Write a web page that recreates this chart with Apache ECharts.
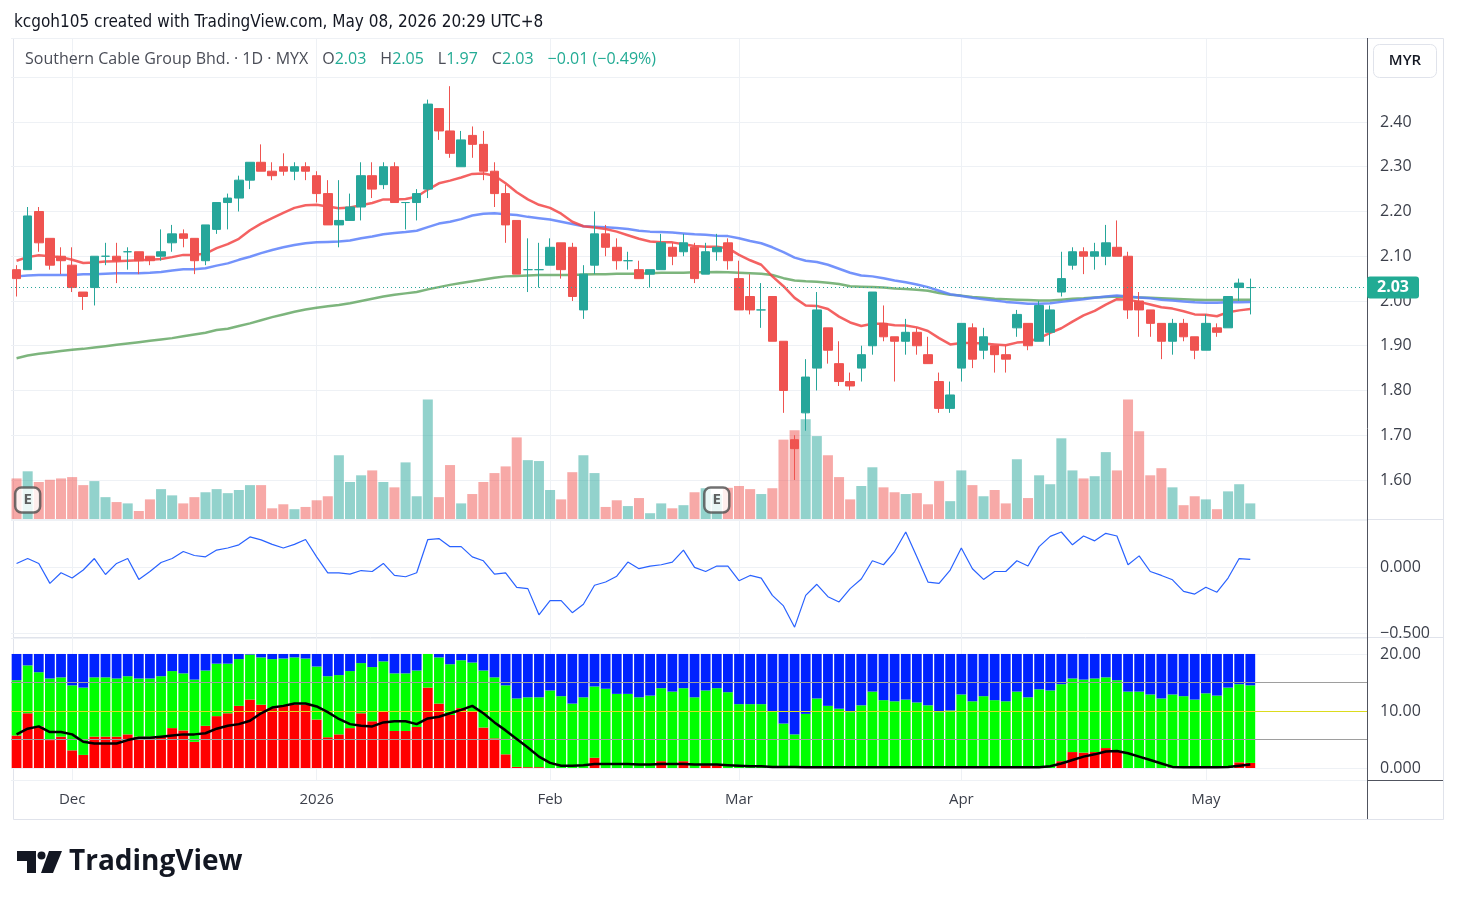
<!DOCTYPE html>
<html>
<head>
<meta charset="utf-8">
<title>Southern Cable Group Bhd. 1D</title>
<script src="https://cdn.jsdelivr.net/npm/echarts@6/dist/echarts.min.js"></script>
<style>
  html, body { margin: 0; padding: 0; background: #fff; }
  #chart { width: 1457px; height: 905px; }
</style>
</head>
<body>
<div id="chart"></div>
<script>
// trading days shown on the chart
const dates = [
  '2025-11-24','2025-11-25','2025-11-26','2025-11-27','2025-11-28',
  '2025-12-01','2025-12-02','2025-12-03','2025-12-04','2025-12-05',
  '2025-12-08','2025-12-09','2025-12-10','2025-12-11','2025-12-12',
  '2025-12-15','2025-12-16','2025-12-17','2025-12-18','2025-12-19',
  '2025-12-22','2025-12-23','2025-12-24','2025-12-26','2025-12-29','2025-12-30','2025-12-31',
  '2026-01-02','2026-01-05','2026-01-06','2026-01-07','2026-01-08','2026-01-09',
  '2026-01-12','2026-01-13','2026-01-14','2026-01-15','2026-01-16',
  '2026-01-19','2026-01-20','2026-01-21','2026-01-22','2026-01-23',
  '2026-01-26','2026-01-27','2026-01-28','2026-01-29','2026-01-30',
  '2026-02-03','2026-02-04','2026-02-05','2026-02-06',
  '2026-02-09','2026-02-10','2026-02-11','2026-02-12','2026-02-13',
  '2026-02-16','2026-02-19','2026-02-20',
  '2026-02-23','2026-02-24','2026-02-25','2026-02-26','2026-02-27',
  '2026-03-02','2026-03-03','2026-03-04','2026-03-05','2026-03-06',
  '2026-03-09','2026-03-10','2026-03-11','2026-03-12','2026-03-13',
  '2026-03-16','2026-03-17','2026-03-18','2026-03-19',
  '2026-03-24','2026-03-25','2026-03-26','2026-03-27','2026-03-30','2026-03-31',
  '2026-04-01','2026-04-02','2026-04-03',
  '2026-04-06','2026-04-07','2026-04-08','2026-04-09','2026-04-10',
  '2026-04-13','2026-04-14','2026-04-15','2026-04-16','2026-04-17',
  '2026-04-20','2026-04-21','2026-04-22','2026-04-23','2026-04-24',
  '2026-04-27','2026-04-28','2026-04-29','2026-04-30',
  '2026-05-04','2026-05-05','2026-05-06','2026-05-07','2026-05-08'
]

// open, high, low, close
const ohlc = [
  [2.07,2.08,2.01,2.05],[2.07,2.21,2.07,2.19],[2.20,2.21,2.11,2.13],[2.14,2.14,2.07,2.08],[2.10,2.12,2.06,2.09],
  [2.08,2.12,2.02,2.03],[2.02,2.02,1.98,2.01],[2.03,2.10,1.99,2.10],[2.10,2.13,2.08,2.10],[2.10,2.13,2.04,2.09],
  [2.11,2.12,2.07,2.11],[2.11,2.11,2.06,2.09],[2.10,2.10,2.08,2.09],[2.10,2.16,2.09,2.11],[2.13,2.17,2.11,2.15],
  [2.15,2.16,2.12,2.14],[2.14,2.14,2.06,2.09],[2.09,2.17,2.08,2.17],[2.16,2.22,2.15,2.22],[2.22,2.24,2.16,2.23],
  [2.23,2.28,2.20,2.27],[2.27,2.31,2.25,2.31],[2.31,2.35,2.29,2.29],[2.29,2.31,2.27,2.28],[2.30,2.33,2.28,2.29],
  [2.29,2.31,2.27,2.30],[2.30,2.31,2.27,2.29],[2.28,2.29,2.22,2.24],[2.24,2.27,2.17,2.17],[2.17,2.27,2.12,2.18],
  [2.18,2.24,2.18,2.21],[2.21,2.31,2.18,2.28],[2.28,2.31,2.23,2.25],[2.26,2.31,2.25,2.30],[2.30,2.31,2.22,2.22],
  [2.22,2.22,2.16,2.22],[2.22,2.25,2.18,2.24],[2.25,2.45,2.23,2.44],[2.43,2.43,2.36,2.38],[2.38,2.48,2.32,2.33],
  [2.30,2.38,2.30,2.36],[2.37,2.39,2.32,2.35],[2.35,2.38,2.27,2.29],[2.29,2.31,2.21,2.24],[2.24,2.26,2.13,2.17],
  [2.18,2.18,2.06,2.06],[2.07,2.14,2.02,2.07],[2.07,2.13,2.03,2.07],[2.08,2.14,2.08,2.12],[2.13,2.13,2.05,2.07],
  [2.12,2.13,2.00,2.01],[1.98,2.08,1.96,2.06],[2.08,2.20,2.06,2.15],[2.15,2.17,2.10,2.12],[2.12,2.14,2.07,2.09],
  [2.09,2.11,2.07,2.09],[2.07,2.09,2.05,2.05],[2.06,2.07,2.03,2.07],[2.07,2.15,2.07,2.13],[2.12,2.13,2.08,2.10],
  [2.11,2.15,2.10,2.13],[2.12,2.13,2.04,2.05],[2.06,2.13,2.06,2.11],[2.11,2.15,2.09,2.12],[2.13,2.14,2.07,2.09],
  [2.05,2.09,1.98,1.98],[2.01,2.06,1.97,1.98],[1.98,2.04,1.94,1.98],[2.01,2.01,1.91,1.91],[1.91,1.91,1.75,1.80],
  [1.69,1.70,1.60,1.67],[1.75,1.87,1.71,1.83],[1.85,2.02,1.80,1.98],[1.94,1.94,1.86,1.89],[1.86,1.91,1.81,1.82],
  [1.82,1.84,1.80,1.81],[1.85,1.90,1.82,1.88],[1.90,2.02,1.88,2.02],[1.95,1.99,1.91,1.92],[1.92,1.92,1.82,1.91],
  [1.91,1.96,1.88,1.93],[1.93,1.94,1.88,1.90],[1.88,1.92,1.86,1.86],[1.82,1.84,1.75,1.76],[1.76,1.82,1.75,1.79],
  [1.85,1.95,1.82,1.95],[1.94,1.95,1.85,1.87],[1.89,1.94,1.87,1.92],[1.90,1.90,1.84,1.88],[1.88,1.90,1.84,1.87],
  [1.94,1.98,1.92,1.97],[1.95,1.95,1.89,1.90],[1.91,2.00,1.91,1.99],[1.93,1.99,1.90,1.98],[2.02,2.11,2.01,2.05],
  [2.08,2.12,2.07,2.11],[2.11,2.12,2.06,2.10],[2.10,2.13,2.07,2.11],[2.10,2.17,2.08,2.13],[2.12,2.18,2.10,2.10],
  [2.10,2.11,1.96,1.98],[2.00,2.02,1.92,1.98],[1.98,1.98,1.92,1.95],[1.95,1.95,1.87,1.91],[1.91,1.96,1.88,1.95],
  [1.95,1.96,1.91,1.92],[1.92,1.92,1.87,1.89],[1.89,1.97,1.89,1.95],[1.94,1.95,1.92,1.93],[1.94,2.01,1.94,2.01],
  [2.03,2.05,2.00,2.04],[2.03,2.05,1.97,2.03]
]

const volume = [
  91,107,83,88,91,94,76,85,49,38, 35,18,44,67,53,35,49,60,67,58,
  65,76,76,24,33,22,27,42,51,143, 83,98,109,83,71,127,51,268,49,121,
  35,56,83,103,118,183,132,130,65,44, 105,143,103,27,42,29,47,13,35,24,
  31,60,69,55,70,74,67,56,69,178, 199,224,186,143,94,44,74,116,71,60,
  56,58,33,85,40,109,76,51,65,35, 134,47,98,78,181,109,91,96,150,109,
  268,197,98,114,71,31,51,44,22,62, 78,35
]

const maFast = [
  2.090,2.098,2.102,2.100,2.098,2.092,2.085,2.086,2.088,2.089,2.090,2.091,2.092,2.094,2.098,2.103,2.103,2.106,2.118,2.127,
  2.139,2.158,2.173,2.185,2.197,2.208,2.214,2.215,2.211,2.207,2.209,2.214,2.219,2.227,2.227,2.228,2.233,2.249,
  2.263,2.269,2.276,2.284,2.285,2.280,2.263,2.243,2.227,2.215,2.208,2.195,2.177,2.167,2.164,2.161,2.155,2.147,
  2.139,2.133,2.131,2.131,2.127,2.123,2.121,2.121,2.118,2.103,2.091,2.081,2.055,2.033,2.007,1.990,1.989,1.982,1.965,
  1.952,1.944,1.949,1.949,1.946,1.945,1.941,1.933,1.917,1.903,1.906,1.906,1.905,1.903,1.901,1.907,1.909,1.917,
  1.929,1.939,1.954,1.968,1.978,1.992,2.004,2.003,1.998,1.992,1.986,1.983,1.977,1.970,1.969,1.966,1.975,1.979,1.982
]

const maMid = [
  2.055,2.057,2.058,2.058,2.058,2.058,2.060,2.060,2.061,2.062,2.062,2.062,2.063,2.065,2.068,2.071,2.071,2.073,2.079,2.084,
  2.092,2.099,2.107,2.114,2.120,2.125,2.129,2.131,2.132,2.133,2.135,2.140,2.144,2.149,2.152,2.154,2.157,2.165,
  2.173,2.177,2.183,2.191,2.195,2.196,2.194,2.192,2.188,2.185,2.182,2.177,2.172,2.167,2.166,2.165,2.163,2.161,
  2.157,2.155,2.154,2.153,2.151,2.149,2.148,2.146,2.145,2.140,2.134,2.129,2.120,2.109,2.097,2.090,2.087,2.081,2.072,
  2.063,2.057,2.055,2.051,2.046,2.042,2.037,2.031,2.023,2.015,2.011,2.007,2.004,2.001,1.998,1.996,1.994,1.994,
  1.995,1.998,2.001,2.004,2.007,2.010,2.012,2.010,2.008,2.006,2.003,2.001,1.999,1.997,1.996,1.996,1.997,1.997,1.998
]

const maSlow = [
  1.872,1.878,1.882,1.885,1.888,1.891,1.893,1.896,1.899,1.902,1.905,1.908,1.911,1.914,1.917,1.921,1.925,1.929,1.935,1.938,
  1.944,1.950,1.957,1.964,1.970,1.976,1.981,1.985,1.988,1.991,1.995,2.000,2.005,2.010,2.014,2.017,2.020,2.026,
  2.031,2.036,2.040,2.044,2.048,2.052,2.055,2.056,2.057,2.058,2.058,2.058,2.058,2.059,2.060,2.060,2.061,2.061,
  2.061,2.062,2.063,2.063,2.063,2.064,2.064,2.065,2.064,2.063,2.062,2.061,2.058,2.051,2.046,2.044,2.043,2.041,2.038,
  2.033,2.032,2.031,2.030,2.028,2.027,2.025,2.023,2.018,2.014,2.012,2.009,2.007,2.005,2.004,2.003,2.002,2.001,
  2.001,2.003,2.005,2.006,2.008,2.009,2.010,2.009,2.008,2.007,2.006,2.005,2.004,2.003,2.002,2.002,2.002,2.003,2.003
]

const oscillator = [
  0.027,0.064,0.027,-0.124,-0.044,-0.084,-0.023,0.064,-0.057,0.027,
  0.064,-0.094,-0.034,0.034,0.064,0.117,0.087,0.077,0.128,0.144,
  0.168,0.228,0.205,0.171,0.144,0.171,0.208,0.077,-0.044,-0.044,
  -0.054,-0.027,-0.034,0.027,-0.064,-0.074,-0.044,0.208,0.215,0.154,
  0.154,0.077,0.047,-0.054,-0.044,-0.154,-0.164,-0.362,-0.255,-0.255,
  -0.346,-0.282,-0.138,-0.114,-0.070,0.037,-0.013,0.007,0.017,0.037,
  0.128,-0.003,-0.034,0.007,0.007,-0.104,-0.064,-0.084,-0.215,-0.295,
  -0.456,-0.215,-0.131,-0.225,-0.265,-0.164,-0.091,0.047,0.017,0.117,
  0.265,0.077,-0.114,-0.124,-0.023,0.144,-0.013,-0.094,-0.034,-0.034,
  0.047,0.007,0.154,0.232,0.265,0.168,0.235,0.198,0.255,0.235,
  0.017,0.084,-0.034,-0.064,-0.097,-0.185,-0.205,-0.154,-0.191,-0.084,
  0.064,0.057
]

// bottom pane: stacked red / green / blue columns and the black line
const paneRed = [
  5.7,9.6,7.3,4.9,5.5,3.1,2.3,5.5,5.5,5.5, 5.9,5.5,5.5,5.5,7.0,6.6,4.6,7.4,9.1,9.6,
  10.9,12.0,11.1,10.5,10.9,11.1,11.1,8.5,5.4,5.9, 7.0,9.6,8.2,9.9,6.5,6.5,7.2,14.1,11.3,9.3,
  10.5,9.9,7.1,5.2,2.4,0.2,0.15,0.15,0,0, 0,0,1.8,0,0,0,0,0,1.2,0,
  1.2,0,0.5,0.5,0,0,0,0,0,0, 0,0,0,0,0,0,0,0,0,0,
  0,0,0,0,0,0,0,0,0,0, 0,0,0,0,1.2,2.8,2.7,2.8,3.5,3.0,
  0,0,0,0,0,0,0,0,0,0, 1.0,0.9
]
const paneGreen = [
  9.7,8.4,9.5,10.8,10.4,11.4,11.8,10.4,10.4,10.2, 10.2,10.2,10.2,10.6,10.0,10.0,10.9,9.7,9.2,8.7,
  8.2,7.9,8.3,8.6,8.3,8.3,8.1,9.3,10.7,10.4, 10.0,8.8,9.5,8.8,10.1,10.1,9.9,5.9,8.1,8.9,
  8.4,8.6,10.0,10.7,12.1,12.0,12.25,12.25,13.6,12.6, 11.3,12.4,12.5,13.9,13.0,13.0,12.4,12.7,12.8,13.4,
  12.8,12.4,13.1,13.5,13.3,11.2,11.2,11.2,9.9,7.8, 5.9,9.5,12.2,10.9,10.4,9.8,11.0,13.4,11.9,11.7,
  12.0,11.5,11.0,9.8,10.1,12.9,11.7,12.6,11.9,11.7, 13.4,12.4,13.8,13.6,13.5,12.9,12.8,12.9,12.4,12.4,
  13.4,13.4,12.9,12.2,12.9,12.6,12.0,13.1,12.7,14.1, 13.7,13.6
]
const paneBlue = [
  4.6,2.0,3.2,4.3,4.1,5.5,5.9,4.1,4.1,4.3, 3.9,4.3,4.3,3.9,3.0,3.4,4.5,2.9,1.7,1.7,
  0.9,0.1,0.6,0.9,0.8,0.6,0.8,2.2,3.9,3.7, 3.0,1.6,2.3,1.3,3.4,3.4,2.9,0,0.6,1.8,
  1.1,1.5,2.9,4.1,5.5,7.8,7.6,7.6,6.4,7.4, 8.7,7.6,5.7,6.1,7.0,7.0,7.6,7.3,6.0,6.6,
  6.0,7.6,6.4,6.0,6.7,8.8,8.8,8.8,10.1,12.2, 14.1,10.5,7.8,9.1,9.6,10.2,9.0,6.6,8.1,8.3,
  8.0,8.5,9.0,10.2,9.9,7.1,8.3,7.4,8.1,8.3, 6.6,7.6,6.2,6.4,5.3,4.3,4.5,4.3,4.1,4.6,
  6.6,6.6,7.1,7.8,7.1,7.4,8.0,6.9,7.3,5.9, 5.3,5.5
]
const paneLine = [
  5.9,6.9,7.3,6.3,6.3,5.9,4.6,4.3,4.3,4.3, 4.9,5.3,5.3,5.5,5.7,5.9,5.9,6.1,6.9,7.4,
  7.7,8.3,9.6,10.6,10.9,11.3,11.3,10.8,9.8,8.6, 7.7,7.4,7.3,8.0,8.2,8.2,7.7,8.7,9.0,9.6,
  10.2,10.9,9.6,8.0,6.6,5.1,3.6,2.0,0.9,0.4, 0.4,0.5,0.7,0.7,0.7,0.7,0.6,0.6,0.7,0.7,
  0.7,0.6,0.6,0.6,0.5,0.4,0.3,0.3,0.2,0.2, 0.2,0.15,0.15,0.15,0.15,0.15,0.15,0.15,0.15,0.15,
  0.15,0.15,0.15,0.15,0.15,0.15,0.15,0.15,0.15,0.15, 0.15,0.15,0.15,0.3,0.8,1.4,2.0,2.4,2.9,3.0,
  2.6,2.0,1.4,0.8,0.2,0.15,0.15,0.15,0.15,0.2, 0.4,0.6
]

const earningsDates = ['2025-11-25', '2026-02-26']
const monthNames = ['2026', 'Feb', 'Mar', 'Apr', 'May', 'Jun', 'Jul', 'Aug', 'Sep', 'Oct', 'Nov', 'Dec']

const UP = '#26a69a'
const DOWN = '#ef5350'
const GRID_LINE = '#eef1f5'
const AXIS_TEXT = '#3b3f4a'
const FONT = '"Open Sans", Roboto, sans-serif'
const NARROW = '"Liberation Sans Narrow", "DejaVu Sans Condensed", Roboto, sans-serif'

// empty slots to the right of the last bar, like the chart's right margin
const categories = dates.concat(Array.from({ length: 10 }, (_, i) => 'pad' + i))

function isMonthStart(i) {
  return i > 0 && i < dates.length && dates[i].slice(0, 7) !== dates[i - 1].slice(0, 7)
}

function monthLabel(i) {
  const m = parseInt(dates[i].slice(5, 7), 10)
  return monthNames[m - 1]
}

const isUp = (row) => row[3] >= row[0]

const candleData = ohlc.map(row => {
  const item = { value: [row[0], row[3], row[2], row[1]] }
  if (row[3] === row[0]) {
    item.itemStyle = { color: UP, color0: UP, borderColor: UP, borderColor0: UP }
  }
  return item
})

const volumeData = volume.map((v, i) => ({
  value: v,
  itemStyle: { color: isUp(ohlc[i]) ? 'rgba(38,166,154,0.5)' : 'rgba(239,83,80,0.5)' }
}))

const last = ohlc[ohlc.length - 1]
const prevClose = ohlc[ohlc.length - 2][3]
const change = last[3] - prevClose
const changePct = change / prevClose * 100
const minus = (v, d) => (v < 0 ? '\u2212' : '') + Math.abs(v).toFixed(d)

const chart = echarts.init(document.getElementById('chart'))

function xAxisFor(gridIndex, showLabels) {
  return {
    type: 'category',
    gridIndex: gridIndex,
    data: categories,
    boundaryGap: true,
    axisLine: { show: false },
    axisTick: { show: false },
    axisLabel: {
      show: showLabels,
      interval: (i) => isMonthStart(i),
      formatter: (v, i) => monthLabel(i),
      color: AXIS_TEXT,
      fontSize: 15,
      fontFamily: FONT,
      margin: 12
    },
    splitLine: {
      show: true,
      interval: (i) => isMonthStart(i),
      alignWithLabel: true,
      lineStyle: { color: GRID_LINE, width: 1 }
    }
  }
}

const yAxisCommon = {
  position: 'right',
  axisLine: { show: false },
  axisTick: { show: false },
  splitLine: { show: true, lineStyle: { color: GRID_LINE, width: 1 } },
  axisLabel: { color: AXIS_TEXT, fontSize: 16, fontFamily: FONT, margin: 13 }
}

const legendText = '{n|Southern Cable Group Bhd. \u00b7 1D \u00b7 MYX}   {k|O}{v|' + last[0].toFixed(2) +
  '}   {k|H}{v|' + last[1].toFixed(2) + '}   {k|L}{v|' + last[2].toFixed(2) +
  '}   {k|C}{v|' + last[3].toFixed(2) + '}   {v|' + minus(change, 2) + ' (' + minus(changePct, 2) + '%)}'

const option = {
  animation: false,
  backgroundColor: '#ffffff',
  textStyle: { fontFamily: FONT },
  title: {
    left: 25,
    top: 50,
    padding: 0,
    text: legendText,
    textStyle: {
      fontWeight: 'normal',
      rich: {
        n: { color: '#4a4d57', fontSize: 16, fontFamily: FONT, fontWeight: 'normal' },
        k: { color: '#4a4d57', fontSize: 16, fontFamily: FONT, fontWeight: 'normal' },
        v: { color: '#22ab94', fontSize: 16, fontFamily: FONT, fontWeight: 'normal' }
      }
    }
  },
  grid: [
    { left: 11, right: 90, top: 38, height: 481 },
    { left: 11, right: 90, top: 520, height: 118 },
    { left: 11, right: 90, top: 638, height: 142 }
  ],
  xAxis: [xAxisFor(0, false), xAxisFor(1, false), xAxisFor(2, true)],
  yAxis: [
    Object.assign({}, yAxisCommon, {
      gridIndex: 0,
      min: 1.5128,
      max: 2.5877,
      splitNumber: 10,
      axisLabel: Object.assign({}, yAxisCommon.axisLabel, {
        formatter: (v) => (v > 2.45 || v < 1.55) ? '' : v.toFixed(2)
      })
    }),
    { gridIndex: 0, show: false, min: 0, max: 1079, splitLine: { show: false } },
    Object.assign({}, yAxisCommon, {
      gridIndex: 1,
      min: -0.538,
      max: 0.356,
      splitNumber: 2,
      axisLabel: Object.assign({}, yAxisCommon.axisLabel, {
        formatter: (v) => Math.abs(v * 2 - Math.round(v * 2)) < 1e-6 ? minus(v, 3) : ''
      })
    }),
    Object.assign({}, yAxisCommon, {
      gridIndex: 2,
      min: -2.1,
      max: 22.8,
      splitNumber: 2,
      axisLabel: Object.assign({}, yAxisCommon.axisLabel, {
        formatter: (v) => v < -0.5 || v > 21 ? '' : (v === 0 ? '0.000' : v.toFixed(2))
      })
    })
  ],
  series: [
    {
      name: 'Volume',
      type: 'bar',
      xAxisIndex: 0,
      yAxisIndex: 1,
      data: volumeData,
      barCategoryGap: '10%',
      z: 1
    },
    {
      name: 'MA slow',
      type: 'line',
      xAxisIndex: 0,
      yAxisIndex: 0,
      data: maSlow,
      symbol: 'none',
      lineStyle: { color: 'rgba(102,168,102,0.85)', width: 2.5 },
      z: 2
    },
    {
      name: 'MA mid',
      type: 'line',
      xAxisIndex: 0,
      yAxisIndex: 0,
      data: maMid,
      symbol: 'none',
      lineStyle: { color: 'rgba(92,128,250,0.85)', width: 2.5 },
      z: 2
    },
    {
      name: 'MA fast',
      type: 'line',
      xAxisIndex: 0,
      yAxisIndex: 0,
      data: maFast,
      symbol: 'none',
      lineStyle: { color: 'rgba(242,70,70,0.85)', width: 2.5 },
      z: 2
    },
    {
      name: 'Price',
      type: 'candlestick',
      xAxisIndex: 0,
      yAxisIndex: 0,
      data: candleData,
      barWidth: 9,
      itemStyle: {
        color: UP,
        color0: DOWN,
        borderColor: UP,
        borderColor0: DOWN,
        borderWidth: 1
      },
      z: 3,
      markLine: {
        silent: true,
        symbol: ['none', 'none'],
        lineStyle: { color: UP, type: [1, 3], width: 1 },
        label: {
          show: true,
          position: 'end',
          distance: 0,
          formatter: last[3].toFixed(2),
          color: '#fff',
          backgroundColor: '#22ab94',
          padding: [3, 10, 3, 10],
          borderRadius: 3,
          fontSize: 16,
          fontWeight: 'bold',
          fontFamily: FONT
        },
        data: [{ yAxis: last[3] }]
      }
    },
    {
      name: 'Earnings',
      type: 'scatter',
      xAxisIndex: 0,
      yAxisIndex: 1,
      data: earningsDates.map(d => [d, 42.6]),
      symbol: 'roundRect',
      symbolSize: [25, 25],
      itemStyle: { color: '#ffffff', borderColor: '#4d4d4d', borderWidth: 2.5 },
      label: {
        show: true,
        position: 'inside',
        formatter: 'E',
        color: '#3a3a3a',
        fontSize: 15,
        fontWeight: 'bold',
        fontFamily: FONT
      },
      z: 4
    },
    {
      name: 'Oscillator',
      type: 'line',
      xAxisIndex: 1,
      yAxisIndex: 2,
      data: oscillator,
      symbol: 'none',
      lineStyle: { color: '#2962ff', width: 1.2 }
    },
    {
      name: 'Red',
      type: 'bar',
      stack: 'pane',
      xAxisIndex: 2,
      yAxisIndex: 3,
      data: paneRed,
      barCategoryGap: '12%',
      itemStyle: { color: '#ff0000' }
    },
    {
      name: 'Green',
      type: 'bar',
      stack: 'pane',
      xAxisIndex: 2,
      yAxisIndex: 3,
      data: paneGreen,
      itemStyle: { color: '#00ff00' }
    },
    {
      name: 'Blue',
      type: 'bar',
      stack: 'pane',
      xAxisIndex: 2,
      yAxisIndex: 3,
      data: paneBlue,
      itemStyle: { color: '#0022ff' },
      markLine: {
        silent: true,
        symbol: ['none', 'none'],
        label: { show: false },
        data: [
          { yAxis: 15, lineStyle: { color: '#9e9e9e', type: 'solid', width: 1 } },
          { yAxis: 10, lineStyle: { color: '#dcdc1e', type: 'solid', width: 1 } },
          { yAxis: 5, lineStyle: { color: '#9e9e9e', type: 'solid', width: 1 } }
        ]
      }
    },
    {
      name: 'Signal',
      type: 'line',
      xAxisIndex: 2,
      yAxisIndex: 3,
      data: paneLine,
      symbol: 'none',
      lineStyle: { color: '#000000', width: 2.5 },
      z: 5
    }
  ],
  graphic: [
    {
      type: 'text', left: 14, top: 14,
      style: { text: 'kcgoh105 created with TradingView.com, May 08, 2026 20:29 UTC+8', fill: '#131722', font: '17px ' + NARROW }
    },
    {
      type: 'rect', shape: { x: 13.5, y: 38.5, width: 1430, height: 781 },
      style: { fill: 'none', stroke: '#e0e3eb', lineWidth: 1 }, silent: true
    },
    {
      type: 'line', shape: { x1: 13, y1: 519.5, x2: 1443, y2: 519.5 },
      style: { stroke: '#e0e3eb', lineWidth: 1 }, silent: true
    },
    {
      type: 'line', shape: { x1: 13, y1: 637.5, x2: 1443, y2: 637.5 },
      style: { stroke: '#e0e3eb', lineWidth: 1 }, silent: true
    },
    {
      type: 'line', shape: { x1: 13, y1: 780.5, x2: 1443, y2: 780.5 },
      style: { stroke: '#50535e', lineWidth: 1 }, silent: true
    },
    {
      type: 'line', shape: { x1: 1367.5, y1: 38, x2: 1367.5, y2: 819 },
      style: { stroke: '#50535e', lineWidth: 1 }, silent: true
    },
    {
      type: 'rect', shape: { x: 1373.5, y: 44.5, width: 63, height: 33, r: 6 },
      style: { fill: '#ffffff', stroke: '#e0e3eb', lineWidth: 1 }, silent: true
    },
    {
      type: 'text', x: 1405, y: 61,
      style: { text: 'MYR', fill: '#131722', font: '600 15px ' + FONT, align: 'center', verticalAlign: 'middle' }
    },
    // TradingView logo mark
    {
      type: 'polygon',
      shape: { points: [[17, 851], [36, 851], [36, 873], [27, 873], [27, 861], [17, 861]] },
      style: { fill: '#131722' }, silent: true
    },
    {
      type: 'circle', shape: { cx: 41.5, cy: 855.5, r: 4 },
      style: { fill: '#131722' }, silent: true
    },
    {
      type: 'polygon',
      shape: { points: [[49, 851], [62, 851], [53, 873], [41, 873]] },
      style: { fill: '#131722' }, silent: true
    },
    {
      type: 'text', left: 69, top: 848,
      style: { text: 'TradingView', fill: '#131722', font: 'bold 28px ' + FONT }
    }
  ]
}

chart.setOption(option)
</script>
</body>
</html>
